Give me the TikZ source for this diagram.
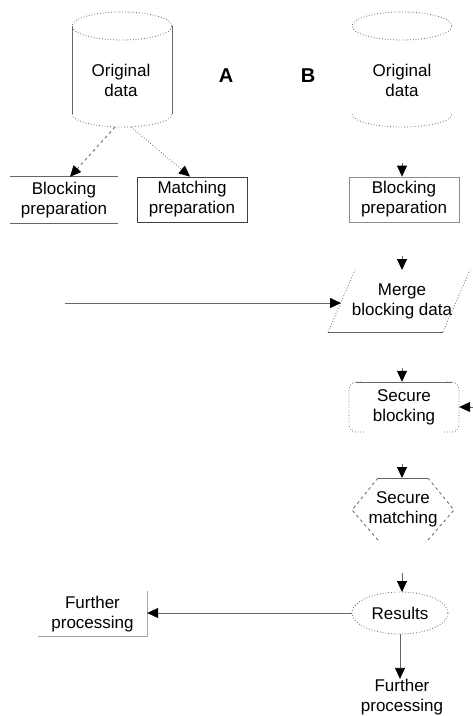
\documentclass[tikz,border=0pt]{standalone}
\usepackage{fontspec}
\setmainfont{Liberation Sans}
\usetikzlibrary{arrows.meta,shapes.geometric}
\begin{document}
\begin{tikzpicture}[x=1pt,y=1pt,
  lbl/.style={font=\fontsize{17}{20}\selectfont, align=center, inner sep=0pt},
  big/.style={font=\fontsize{20}{22}\selectfont\bfseries, inner sep=0pt},
  ln/.style={draw=black!60, line width=0.8pt},
  dotln/.style={draw=black!60, line width=0.8pt, dotted},
  dashln/.style={draw=black!60, line width=0.8pt, dashed},
  arr/.style={-{Triangle[length=11pt,width=10pt,color=black,fill=black]}, draw=black!60, line width=0.8pt},
  boxsize/.style={minimum width=110pt, minimum height=45pt}
]
\useasboundingbox (0,0) rectangle (473,-716);

% ---------- column A ----------
\node[lbl] (cylA) at (121,-80) {Original\\data};
\draw[dotln] (122,-26) ellipse [x radius=50pt, y radius=14pt];
\draw[ln] (72,-26) -- (72,-114);
\draw[ln] (172,-26) -- (172,-114);
\draw[dotln] (72,-114) arc[start angle=180, end angle=360, x radius=50pt, y radius=13pt];
\coordinate (cylAb) at (122,-127);
\node[big] (labA) at (226,-76) {A};

\node[lbl, boxsize, minimum width=108pt, minimum height=46pt] (bpA) at (64,-200) {Blocking\\preparation};
\draw[ln] (bpA.north west) -- (bpA.north east);
\draw[ln] (bpA.south west) -- (bpA.south east);
\node[lbl, boxsize, draw=black!75, line width=0.8pt] (mpA) at (192,-199.5) {Matching\\preparation};

\draw[arr, dashed] (cylAb) ++(-7,0) -- (bpA.north -| 70,0);
\draw[arr, dotted] (cylAb) ++(9,0) -- (mpA.north -| 190,0);

% ---------- column B ----------
\node[big] (labB) at (308,-76) {B};
\node[lbl] (cylB) at (402,-80) {Original\\data};
\draw[dotln] (402,-26) ellipse [x radius=50pt, y radius=14pt];
\draw[dotln] (352,-114) arc[start angle=180, end angle=360, x radius=50pt, y radius=13pt];

\node[lbl, boxsize, draw=black!45, line width=0.8pt] (bpB) at (404,-199.5) {Blocking\\preparation};
\coordinate (s1) at (402,-163);
\draw[arr] (s1) -- (bpB.north -| s1);

% Merge blocking data (parallelogram, partly drawn)
\node[lbl] (merge) at (402,-301) {Merge\\blocking data};
\draw[dotln] (328,-332) -- (355,-270);
\draw[dotln] (443,-332) -- (470,-270);
\draw[ln] (328,-332) -- (443,-332);
\coordinate (s2) at (402,-256);
\coordinate (mtop) at (402,-270);
\draw[arr] (s2) -- (mtop);
\coordinate (leftin) at (65,-303);
\coordinate (mleft) at (341,-303);
\draw[arr] (leftin) -- (mleft);

% Secure blocking (rounded rectangle, partly drawn)
\node[lbl, minimum width=110pt, minimum height=50pt] (sb) at (404,-407) {Secure\\blocking};
\draw[dotln, rounded corners=7pt] (364,-432) -- (349,-432) -- (349,-382) -- (362,-382);
\draw[dotln, rounded corners=7pt] (444,-432) -- (459,-432) -- (459,-382) -- (446,-382);
\draw[ln] (356,-382) -- (452,-382);
\coordinate (s3) at (402,-368);
\draw[arr] (s3) -- (sb.north -| s3);
\coordinate (rightin) at (473,-407);
\draw[arr] (rightin) -- (sb.east);

% Secure matching (hexagon, partly drawn)
\node[lbl] (sm) at (403,-509) {Secure\\matching};
\draw[ln] (378,-478) -- (428,-478);
\draw[dashln] (378,-478) -- (352,-510) -- (378,-540);
\draw[dashln] (428,-478) -- (454,-510) -- (428,-540);
\coordinate (s4) at (402,-464);
\coordinate (smtop) at (402,-478);
\draw[arr] (s4) -- (smtop);

% Results
\node[lbl, ellipse, minimum width=96pt, minimum height=42pt] (res) at (400,-613) {Results};
\draw[dotln] (400,-613) ellipse [x radius=48pt, y radius=21pt];
\coordinate (s5) at (402,-573);
\coordinate (restop) at (402,-592);
\draw[arr] (s5) -- (restop);

% Further processing (bottom)
\node[lbl] (fp2) at (402,-697) {Further\\processing};
\draw[arr] (res.south) -- (fp2.north -| res.south);

% Further processing (left)
\node[lbl, boxsize, minimum width=109pt] (fp1) at (92.5,-614) {Further\\processing};
\draw[draw=black!35, line width=0.8pt] (fp1.south west) -- (fp1.south east) -- (fp1.north east);
\draw[arr] (res.west) -- (res.west -| fp1.east);
\end{tikzpicture}
\end{document}
